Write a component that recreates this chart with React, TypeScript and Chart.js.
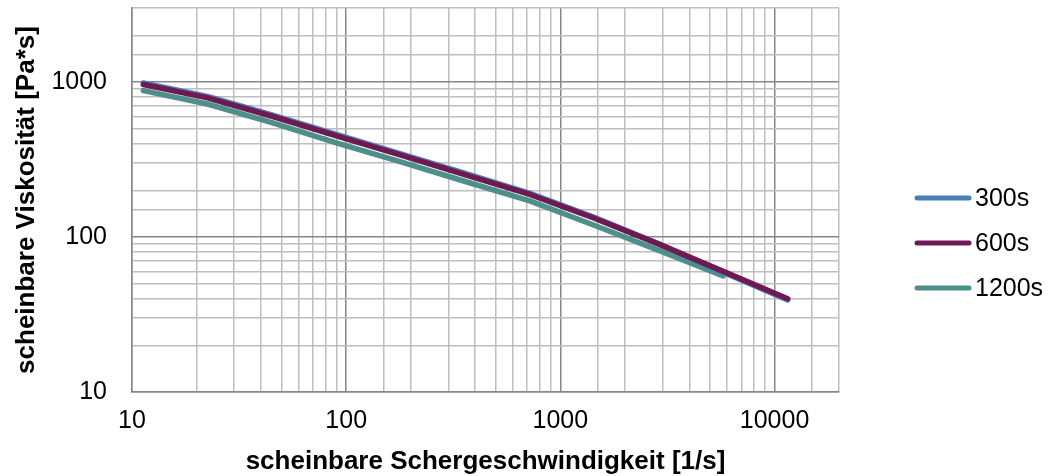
import React, { useEffect, useRef } from "react";
import { Chart, registerables } from "chart.js";

Chart.register(...registerables);

// Data
const shearRate = [11.3, 22.5, 45, 90, 180, 360, 720, 1440, 2880, 5760, 11520];
const visc300 = [985, 806, 614, 459, 344, 257, 191, 134, 90.5, 59.3, 39.3];
const visc600 = [963, 789, 601, 449, 337, 252, 188, 132, 90, 60, 40];
const visc1200 = [879, 721, 546, 404, 305, 228, 171, 119, 82, 56];

const seriesLabels = ["300s", "600s", "1200s"];
const seriesColors = ["#4A7EBB", "#6E1A50", "#4D8F8A"];

const xTitle = "scheinbare Schergeschwindigkeit [1/s]";
const yTitle = "scheinbare Viskosität [Pa*s]";

const FONT = "'Liberation Sans', Arial, sans-serif";

const toPoints = (vals: number[]) => vals.map((v, i) => ({ x: shearRate[i], y: v }));

const decadeLabel = (v: any) => {
  const n = Number(v);
  const l = Math.log10(n);
  return Math.abs(l - Math.round(l)) < 1e-9 ? String(n) : "";
};

const gridColor = (ctx: any) => (ctx.tick && ctx.tick.major ? "#878787" : "#BEBEBE");

const customLegend = {
  id: "customLegend",
  afterDraw(chart: any) {
    const { ctx, chartArea } = chart;
    const x0 = chartArea.right + 78;
    const lineLen = 52;
    const yc = (chartArea.top + chart.height) / 2;
    const gap = 45;
    ctx.save();
    ctx.font = `25px ${FONT}`;
    ctx.textBaseline = "middle";
    ctx.textAlign = "left";
    seriesLabels.forEach((lab, i) => {
      const y = yc + (i - 1) * gap + 1;
      ctx.strokeStyle = seriesColors[i];
      ctx.lineWidth = 5;
      ctx.lineCap = "round";
      ctx.beginPath();
      ctx.moveTo(x0, y);
      ctx.lineTo(x0 + lineLen, y);
      ctx.stroke();
      ctx.fillStyle = "#000000";
      ctx.fillText(lab, x0 + lineLen + 6, y + 1);
    });
    ctx.restore();
  },
};

export default function App() {
  const ref = useRef<HTMLCanvasElement | null>(null);

  useEffect(() => {
    if (!ref.current) return;
    const series = [visc300, visc600, visc1200];
    const orders = [2, 1, 3];
    const chart = new Chart(ref.current, {
      type: "line",
      data: {
        datasets: series.map((vals, i) => ({
          label: seriesLabels[i],
          data: toPoints(vals),
          borderColor: seriesColors[i],
          backgroundColor: seriesColors[i],
          borderWidth: 5.5,
          borderCapStyle: "round" as const,
          borderJoinStyle: "round" as const,
          pointRadius: 0,
          tension: 0,
          fill: false,
          order: orders[i],
        })),
      },
      options: {
        responsive: false,
        animation: false,
        layout: { padding: { left: 0, top: 8, right: 209, bottom: 0 } },
        plugins: {
          legend: { display: false },
          tooltip: { enabled: false },
        },
        scales: {
          x: {
            type: "logarithmic",
            min: 10,
            max: 20000,
            afterFit: (s: any) => {
              s.height = 84;
              s.paddingLeft = 0;
              s.paddingRight = 0;
            },
            grid: { color: gridColor, lineWidth: 1.5, drawTicks: false },
            border: { display: true, color: "#878787", width: 1.5 },
            ticks: {
              autoSkip: false,
              maxRotation: 0,
              padding: 14,
              color: "#000000",
              font: { family: FONT, size: 25 },
              callback: decadeLabel,
            },
            title: {
              display: true,
              text: xTitle,
              color: "#000000",
              font: { family: FONT, size: 26, weight: "bold", lineHeight: 1 },
              padding: { top: 0, bottom: 1 },
            },
          },
          y: {
            type: "logarithmic",
            min: 10,
            max: 3000,
            afterFit: (s: any) => {
              s.width = 132;
              s.paddingTop = 0;
              s.paddingBottom = 0;
            },
            grid: { color: gridColor, lineWidth: 1.5, drawTicks: false },
            border: { display: true, color: "#878787", width: 1.5 },
            ticks: {
              autoSkip: false,
              padding: 25,
              color: "#000000",
              font: { family: FONT, size: 25 },
              callback: decadeLabel,
            },
            title: {
              display: true,
              text: yTitle,
              color: "#000000",
              font: { family: FONT, size: 26, weight: "bold", lineHeight: 1 },
              padding: { top: 14, bottom: 0 },
            },
          },
        },
      },
      plugins: [customLegend],
    });
    return () => chart.destroy();
  }, []);

  return (
    <div style={{ position: "fixed", left: 0, top: 0, width: 1048, height: 476, background: "#ffffff" }}>
      <canvas ref={ref} width={1048} height={476} style={{ width: 1048, height: 476, display: "block" }} />
    </div>
  );
}
